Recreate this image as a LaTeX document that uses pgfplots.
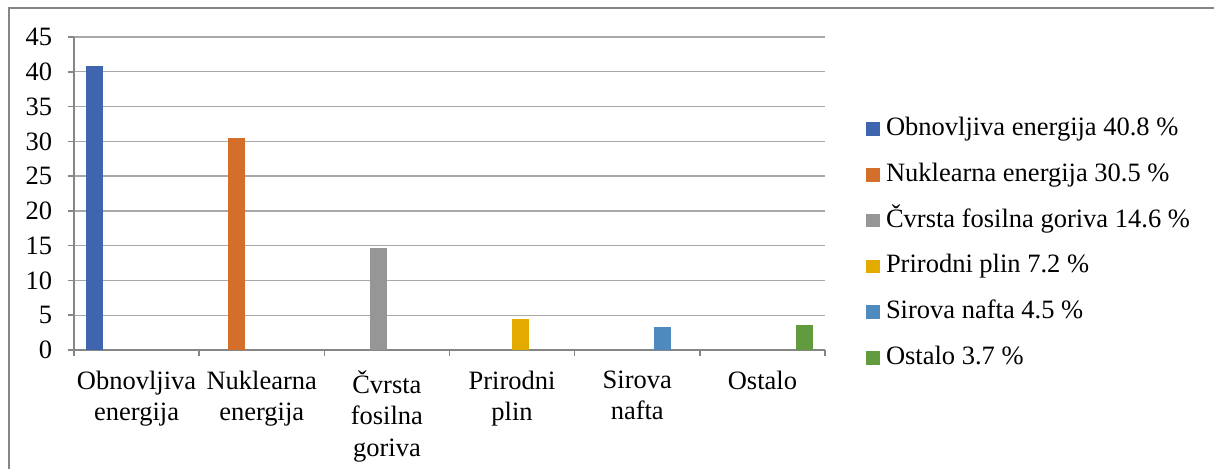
\documentclass[border=0pt]{standalone}
\usepackage{fontspec}
\setmainfont{Liberation Serif}
\usepackage{pgfplots}
\pgfplotsset{compat=1.18}
\definecolor{c1}{HTML}{3F65AE}
\definecolor{c2}{HTML}{D46F2B}
\definecolor{c3}{HTML}{969696}
\definecolor{c4}{HTML}{E3AB00}
\definecolor{c5}{HTML}{4F8ABF}
\definecolor{c6}{HTML}{629B3D}
\definecolor{axisgray}{HTML}{868686}
\definecolor{gridgray}{HTML}{A8A8A8}
\begin{document}
\fontsize{13.25}{15.5}\selectfont
\begin{tikzpicture}
\useasboundingbox (-37pt,-59.5pt) rectangle (570pt,175pt);
\begin{axis}[
  scale only axis, width=375.5pt, height=156.5pt,
  at={(0,0)}, anchor=south west,
  xmin=-0.5, xmax=5.5, ymin=0, ymax=45,
  axis x line*=bottom, axis y line*=left,
  axis line style={draw=axisgray, line width=1pt},
  xtick={-0.5,0.5,1.5,2.5,3.5,4.5,5.5},
  xticklabels={,,,,,,},
  extra x ticks={0,1,2,3,4,5},
  extra x tick labels={{Obnovljiva\\energija},{Nuklearna\\energija},{Čvrsta\\fosilna\\goriva},{Prirodni\\plin},{Sirova\\nafta},{Ostalo}},
  extra x tick style={major tick length=0pt, grid=none},
  xticklabel style={align=center, inner sep=0pt, anchor=north, yshift=-10.3pt, font=\rmfamily\fontsize{13.25}{15.6}\selectfont},
  ytick={0,5,10,15,20,25,30,35,40,45},
  yticklabels={0,5,10,15,20,25,30,35,40,45},
  yticklabel style={inner sep=0pt, anchor=east, xshift=-7.5pt, font=\rmfamily\fontsize{13.25}{15.5}\selectfont},
  ymajorgrids, grid style={draw=gridgray, line width=0.7pt},
  tick align=outside, major tick length=3.25pt,
  tick style={draw=axisgray, line width=0.8pt},
  ybar, bar width=8.35pt,
  legend style={at={(1.0546,0.7476)}, anchor=north west, draw=none, fill=none,
    inner sep=0pt, row sep=10.4pt, column sep=3pt,
    font=\rmfamily\fontsize{13.25}{15.5}\selectfont,
    nodes={inner sep=0pt, text height=9.5pt, text depth=3pt, anchor=west}},
  legend cell align=left,
  legend image code/.code={\fill[#1] (0pt,-3.4pt) rectangle (6.8pt,3.4pt);},
]
\addplot[fill=c1, draw=none, bar shift=-20.875pt] coordinates {(0,40.8)};
\addlegendentry{Obnovljiva energija 40.8 \%}
\addplot[fill=c2, draw=none, bar shift=-12.525pt] coordinates {(1,30.5)};
\addlegendentry{Nuklearna energija 30.5 \%}
\addplot[fill=c3, draw=none, bar shift=-4.175pt] coordinates {(2,14.6)};
\addlegendentry{Čvrsta fosilna goriva 14.6 \%}
\addplot[fill=c4, draw=none, bar shift=4.175pt] coordinates {(3,4.5)};
\addlegendentry{Prirodni plin 7.2 \%}
\addplot[fill=c5, draw=none, bar shift=12.525pt] coordinates {(4,3.3)};
\addlegendentry{Sirova nafta 4.5 \%}
\addplot[fill=c6, draw=none, bar shift=20.875pt] coordinates {(5,3.6)};
\addlegendentry{Ostalo 3.7 \%}
\end{axis}
\draw[draw=axisgray, line width=0.6pt] (-32.5pt,-59.5pt) -- (-32.5pt,171pt) -- (570pt,171pt);
\end{tikzpicture}
\end{document}
